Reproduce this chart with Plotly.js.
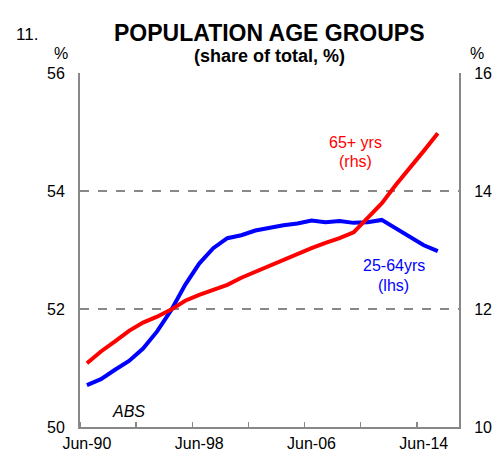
<!DOCTYPE html>
<html>
<head>
<meta charset="utf-8">
<script src="https://cdn.plot.ly/plotly-3.0.1.min.js"></script>
<style>html,body{margin:0;padding:0;background:#fff;}#chart{width:503px;height:454px;}</style>
</head>
<body>
<div id="chart"></div>
<script>
// Annual observations, June of each year
const dates = ['1990-06-30','1991-06-30','1992-06-30','1993-06-30','1994-06-30','1995-06-30','1996-06-30','1997-06-30','1998-06-30','1999-06-30','2000-06-30','2001-06-30','2002-06-30','2003-06-30','2004-06-30','2005-06-30','2006-06-30','2007-06-30','2008-06-30','2009-06-30','2010-06-30','2011-06-30','2012-06-30','2013-06-30','2014-06-30','2015-06-30'];
// 25-64 yrs share, % (lhs)
const age2564 = [50.71,50.81,50.97,51.12,51.33,51.62,51.98,52.41,52.77,53.03,53.20,53.25,53.33,53.38,53.42,53.45,53.50,53.47,53.49,53.46,53.47,53.51,53.37,53.23,53.08,52.98];
// 65+ yrs share, % (rhs)
const age65 = [11.08,11.28,11.45,11.63,11.77,11.87,11.99,12.14,12.24,12.33,12.41,12.53,12.63,12.73,12.83,12.94,13.03,13.12,13.20,13.30,13.54,13.79,14.10,14.38,14.68,14.98];
// axis ticks
const tickLabelDates = ['1990-06-30','1998-06-30','2006-06-30','2014-06-30'];
const tickLabels = ['Jun-90','Jun-98','Jun-06','Jun-14'];
const tickMarkDates = ['1990-01-01','1994-01-01','1998-01-01','2002-01-01','2006-01-01','2010-01-01','2014-01-01'];
const xRange = ['1990-01-01','2017-01-01'];
const lhsRange = [50,56];
const rhsRange = [10,16];

const FONT = 'Liberation Sans, Arial, sans-serif';
const FS = 16;

const traces = [
  {x: dates, y: age2564, type:'scatter', mode:'lines', line:{color:'#0000ff', width:4}, yaxis:'y', hoverinfo:'skip'},
  {x: dates, y: age65, type:'scatter', mode:'lines', line:{color:'#ff0000', width:4}, yaxis:'y2', hoverinfo:'skip'}
];

function ann(text, x, y, opts) {
  return Object.assign({text:text, x:x, y:y, xref:'paper', yref:'paper', showarrow:false, xanchor:'center', yanchor:'middle', font:{family:FONT, size:FS, color:'#000'}}, opts||{});
}

const layout = {
  width:503, height:454,
  margin:{l:80, r:44, t:73, b:27},
  paper_bgcolor:'#fff', plot_bgcolor:'#fff',
  showlegend:false,
  font:{family:FONT, size:FS, color:'#000'},
  xaxis:{
    type:'date', range:xRange, fixedrange:true,
    tickvals:tickLabelDates, ticktext:tickLabels, ticks:'', ticklabelstandoff:1,
    showgrid:false, zeroline:false,
    showline:true, linecolor:'#888', linewidth:2,
    tickfont:{family:FONT, size:FS, color:'#000'},
    minor:{tickvals:tickMarkDates, ticks:'inside', ticklen:5, tickcolor:'#888', tickwidth:1.5, showgrid:false}
  },
  yaxis:{
    range:lhsRange, dtick:2, tick0:50, ticks:'', fixedrange:true, ticklabelstandoff:10,
    showgrid:true, gridcolor:'#888', gridwidth:1.5, griddash:'dash',
    zeroline:false, showline:true, linecolor:'#888', linewidth:2,
    tickfont:{family:FONT, size:FS, color:'#000'}
  },
  yaxis2:{
    range:rhsRange, dtick:2, tick0:10, ticks:'', overlaying:'y', side:'right', fixedrange:true, ticklabelstandoff:10,
    showgrid:false, zeroline:false, showline:true, linecolor:'#888', linewidth:2,
    tickfont:{family:FONT, size:FS, color:'#000'}
  },
  annotations:[
    ann('<b>POPULATION AGE GROUPS</b>', 0.501, 1.113, {font:{family:FONT, size:23, color:'#000'}}),
    ann('11.', -0.14, 1.11, {font:{family:FONT, size:17, color:'#000'}}),
    ann('<b>(share of total, %)</b>', 0.501, 1.048, {font:{family:FONT, size:18, color:'#000'}}),
    ann('%', -0.05, 1.056),
    ann('%', 1.0475, 1.056),
    ann('65+ yrs', 0.7256, 0.805, {font:{family:FONT, size:FS, color:'#ff0000'}}),
    ann('(rhs)', 0.7256, 0.751, {font:{family:FONT, size:FS, color:'#ff0000'}}),
    ann('25-64yrs', 0.828, 0.455, {font:{family:FONT, size:FS, color:'#0000ff'}}),
    ann('(lhs)', 0.828, 0.401, {font:{family:FONT, size:FS, color:'#0000ff'}}),
    ann('<i>ABS</i>', 0.127, 0.045)
  ]
};

Plotly.newPlot('chart', traces, layout, {displayModeBar:false, staticPlot:true});
</script>
</body>
</html>
